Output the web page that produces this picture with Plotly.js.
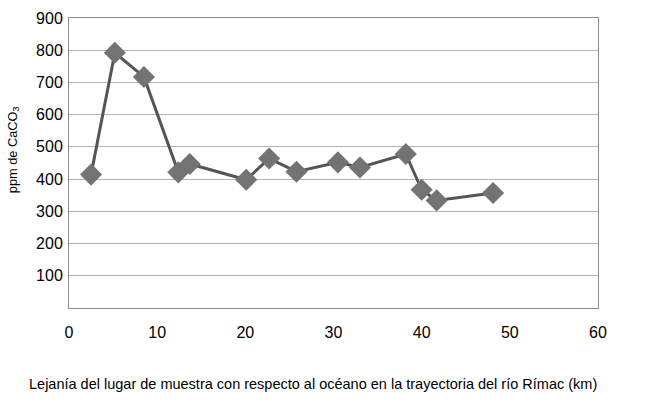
<!DOCTYPE html>
<html>
<head>
<meta charset="utf-8">
<script src="https://cdn.plot.ly/plotly-3.0.1.min.js"></script>
<style>html,body{margin:0;padding:0;background:#fff;}#chart{width:656px;height:404px;}</style>
</head>
<body>
<div id="chart"></div>
<script>
const distanceKm = [2.5, 5.2, 8.5, 12.4, 13.7, 20.1, 22.7, 25.8, 30.5, 33.0, 38.2, 40.0, 41.7, 48.1];
const ppmCaCO3 = [414, 792, 717, 421, 447, 398, 464, 423, 452, 436, 478, 367, 334, 357];
const yTicks = [100, 200, 300, 400, 500, 600, 700, 800, 900];
const xTicks = [0, 10, 20, 30, 40, 50, 60];
const xTitle = 'Lejanía del lugar de muestra con respecto al océano en la trayectoria del río Rímac (km)';
const yTitle = 'ppm de CaCO<sub>3</sub>';

const font = "'Liberation Sans Narrow', 'Arial Narrow', 'Liberation Sans', Arial, sans-serif";

const trace = {
  x: distanceKm,
  y: ppmCaCO3,
  type: 'scatter',
  mode: 'lines+markers',
  line: {color: '#555555', width: 3},
  marker: {symbol: 'diamond', size: 17, color: '#737373', line: {width: 0}},
  cliponaxis: false
};

const layout = {
  width: 656, height: 404,
  margin: {l: 69, r: 58, t: 18, b: 96},
  paper_bgcolor: '#ffffff', plot_bgcolor: '#ffffff',
  showlegend: false,
  font: {family: font, color: '#000000'},
  xaxis: {
    range: [0, 60], tickvals: xTicks, ticktext: xTicks.map(String),
    showgrid: false, zeroline: false,
    showline: true, linecolor: '#8c8c8c', linewidth: 1, mirror: true,
    ticks: '', tickfont: {size: 16, family: font}, ticklabelstandoff: 10,
    automargin: false, fixedrange: true
  },
  yaxis: {
    range: [0, 900], tickvals: yTicks, ticktext: yTicks.map(String),
    showgrid: true, gridcolor: '#b4b4b4', gridwidth: 1, zeroline: false,
    showline: true, linecolor: '#8c8c8c', linewidth: 1, mirror: true,
    ticks: '', tickfont: {size: 16, family: font}, ticklabelstandoff: 2,
    automargin: false, fixedrange: true
  },
  annotations: [
    {text: xTitle, xref: 'paper', yref: 'paper', x: (313 - 69) / 529, y: -(383 - 307.5) / 289.5,
     xanchor: 'center', yanchor: 'middle', showarrow: false, font: {size: 14.5, family: font, color: '#000'}},
    {text: yTitle, xref: 'paper', yref: 'paper', x: (13 - 69) / 529, y: (307.5 - 150) / 289.5,
     xanchor: 'center', yanchor: 'middle', textangle: -90, showarrow: false, font: {size: 12.8, family: font, color: '#000'}}
  ]
};

Plotly.newPlot('chart', [trace], layout, {displayModeBar: false, staticPlot: true});
</script>
</body>
</html>
